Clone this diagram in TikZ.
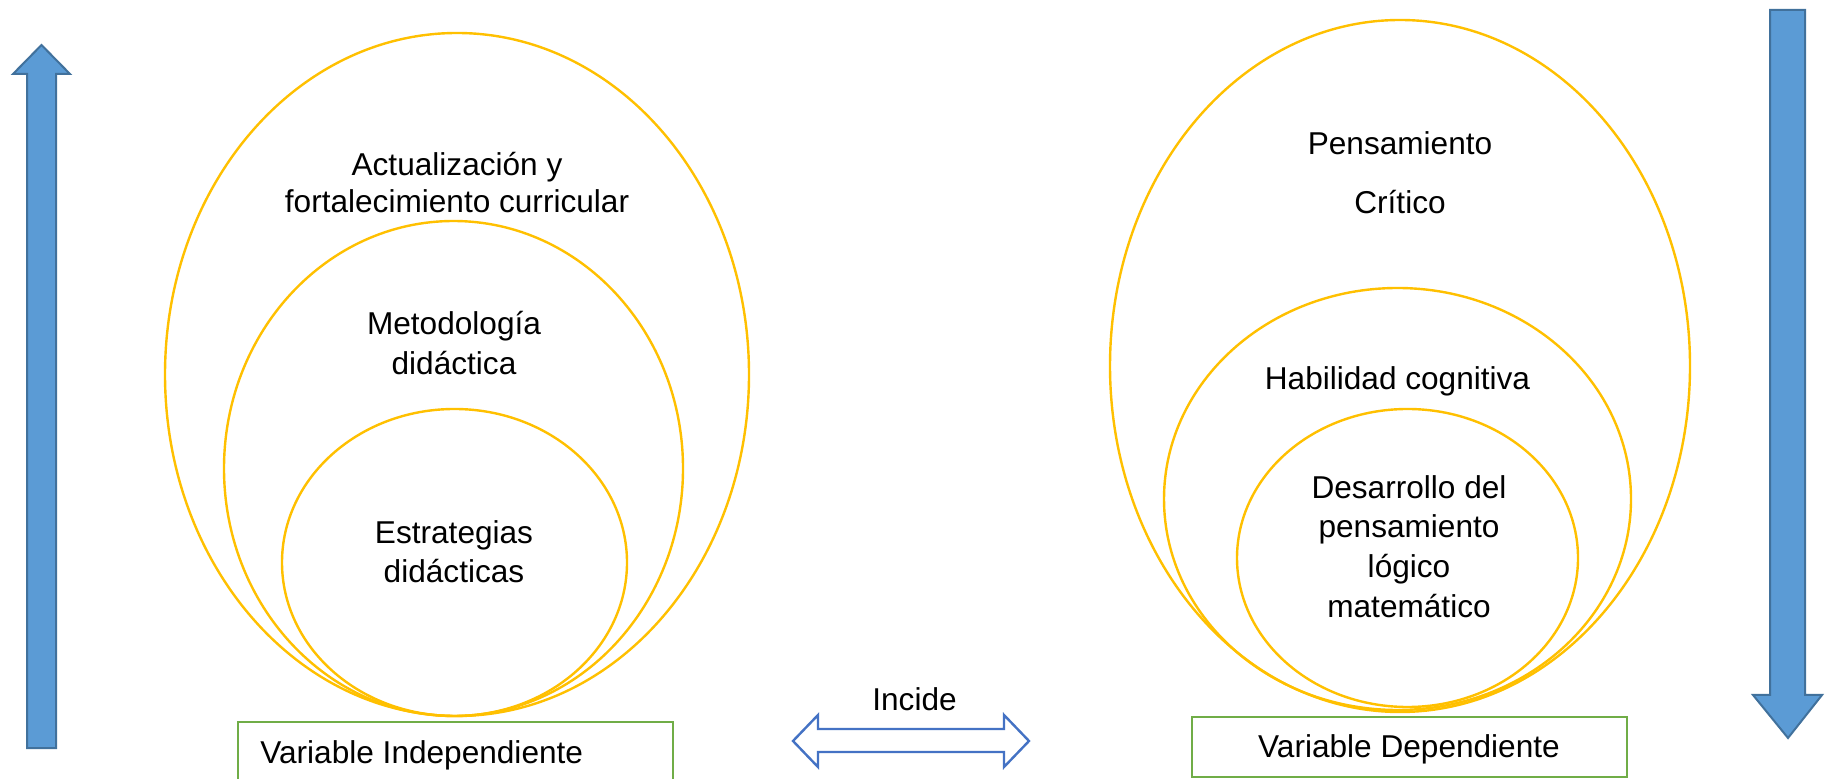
\documentclass[tikz,border=0pt]{standalone}
\usepackage{fontspec}
\setmainfont{Liberation Sans}
\usetikzlibrary{shapes.geometric}
\definecolor{gold}{HTML}{FFC000}
\definecolor{grn}{HTML}{70AD47}
\definecolor{bluefill}{HTML}{5B9BD5}
\definecolor{blueedge}{HTML}{41719C}
\definecolor{arrblue}{HTML}{4472C4}
\tikzset{
  ring/.style={draw=gold, line width=1.2pt, fill=none},
  varbox/.style={draw=grn, line width=1.2pt},
  bigarrow/.style={fill=bluefill, draw=blueedge, line width=1pt, line join=miter},
  dblarrow/.style={draw=arrblue, line width=1.2pt, fill=white, line join=miter},
  lbl/.style={anchor=base, inner sep=0pt, font=\fontsize{15.8pt}{18pt}\selectfont},
}
\begin{document}
\begin{tikzpicture}[x=0.5pt,y=-0.5pt]
\path[use as bounding box, fill=white] (0,0) rectangle (1825,779);
% left ellipses
\draw[ring] (457,374.5) ellipse [x radius=292, y radius=341.5];
\draw[ring] (453.5,468.5) ellipse [x radius=229.5, y radius=247.5];
\draw[ring] (454.5,562.5) ellipse [x radius=172.5, y radius=153.5];
% right ellipses
\draw[ring] (1400,366) ellipse [x radius=290, y radius=346];
\draw[ring] (1397.5,499) ellipse [x radius=233.5, y radius=211];
\draw[ring] (1407.5,558) ellipse [x radius=170.5, y radius=149];
% left texts
\node[lbl] (a1) at (457,176) {Actualización y};
\node[lbl] (a2) at (457,213) {fortalecimiento curricular};
\node[lbl] (m1) at (454,335) {Metodología};
\node[lbl] (m2) at (454,375) {didáctica};
\node[lbl] (e1) at (454,544) {Estrategias};
\node[lbl] (e2) at (454,583) {didácticas};
% right texts
\node[lbl] (p1) at (1400,155) {Pensamiento};
\node[lbl] (p2) at (1400,214) {Crítico};
\node[lbl] (h1) at (1397.5,390) {Habilidad cognitiva};
\node[lbl] (d1) at (1409,499) {Desarrollo del};
\node[lbl] (d2) at (1409,538) {pensamiento};
\node[lbl] (d3) at (1409,578) {lógico};
\node[lbl] (d4) at (1409,618) {matemático};
% variable boxes
\draw[varbox] (238,722) rectangle (673,790);
\node[lbl, anchor=base west] (vi) at (260,763) {Variable Independiente};
\draw[varbox] (1192,717) rectangle (1627,777);
\node[lbl] (vd) at (1409,757) {Variable Dependiente};
% incide
\node[lbl] (inc) at (914.5,711) {Incide};
\draw[dblarrow] (793,741) -- (818,715) -- (818,729) -- (1004,729) -- (1004,715)
  -- (1029,741) -- (1004,767) -- (1004,752) -- (818,752) -- (818,767) -- cycle;
% big blue arrows
\draw[bigarrow] (41.5,45) -- (70,74) -- (56,74) -- (56,748) -- (27,748) -- (27,74) -- (13,74) -- cycle;
\draw[bigarrow] (1770,10) -- (1805,10) -- (1805,695) -- (1822,695) -- (1788,738)
  -- (1753,695) -- (1770,695) -- cycle;
\end{tikzpicture}
\end{document}
